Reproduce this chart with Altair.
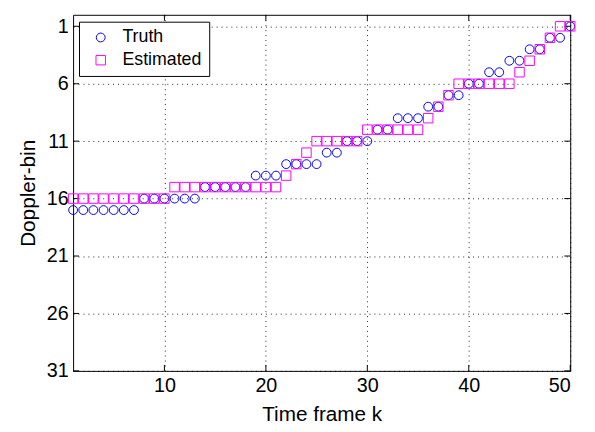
import altair as alt
import pandas as pd

k = list(range(1, 51))
truth = [17]*7 + [16]*6 + [15]*5 + [14]*3 + [13]*4 + [12]*2 + [11]*3 + [10]*2 + [9]*3 + [8]*2 + [7]*2 + [6]*2 + [5]*2 + [4]*2 + [3]*2 + [2]*2 + [1]
estimated = [16]*10 + [15]*11 + [14] + [13] + [12] + [11]*5 + [10]*6 + [9] + [8] + [7] + [6]*6 + [5] + [4] + [3] + [2] + [1] + [1]
x_ticks = [10, 20, 30, 40, 50]
y_ticks = [1, 6, 11, 16, 21, 26, 31]

df = pd.DataFrame({
    "k": k * 2,
    "bin": truth + estimated,
    "series": ["Truth"] * len(k) + ["Estimated"] * len(k),
})
xt = pd.DataFrame({"x": x_ticks})
yt = pd.DataFrame({"y": y_ticks})

FONT = "Liberation Sans"
W, H = 504, 361
xs = alt.Scale(domain=[1, 50], nice=False, zero=False)
ys = alt.Scale(domain=[0, 31], reverse=True, nice=False, zero=False)
leg = alt.Legend(title=None, orient="none", legendX=6, legendY=7)

points = alt.Chart(df).mark_point(filled=False, strokeWidth=1, opacity=1).encode(
    x=alt.X("k:Q", scale=xs, axis=alt.Axis(values=x_ticks, title="Time frame k")),
    y=alt.Y("bin:Q", scale=ys, axis=alt.Axis(values=y_ticks, title="Doppler-bin")),
    color=alt.Color("series:N", scale=alt.Scale(domain=["Truth", "Estimated"], range=["#0000ff", "#ff00ff"]),
                    legend=leg),
    shape=alt.Shape("series:N", scale=alt.Scale(domain=["Truth", "Estimated"], range=["circle", "square"]),
                    legend=leg),
    size=alt.Size("series:N", scale=alt.Scale(domain=["Truth", "Estimated"], range=[80, 92]), legend=None),
)

xb = alt.Chart(xt).mark_rule(color="black", strokeWidth=1).encode(x=alt.X("x:Q", scale=xs), y=alt.value(H), y2=alt.value(H - 6))
xtop = alt.Chart(xt).mark_rule(color="black", strokeWidth=1).encode(x=alt.X("x:Q", scale=xs), y=alt.value(0), y2=alt.value(6))
yl = alt.Chart(yt).mark_rule(color="black", strokeWidth=1).encode(y=alt.Y("y:Q", scale=ys), x=alt.value(0), x2=alt.value(6))
yr = alt.Chart(yt).mark_rule(color="black", strokeWidth=1).encode(y=alt.Y("y:Q", scale=ys), x=alt.value(W), x2=alt.value(W - 6))

chart = alt.layer(xb, xtop, yl, yr, points).properties(
    width=W, height=H, padding={"left": 9, "top": 3, "right": 10, "bottom": 0}
).configure_view(
    stroke="black", strokeWidth=1
).configure_axis(
    grid=True, gridColor="black", gridDash=[1, 4], gridOpacity=0.85, gridWidth=1,
    domain=False, ticks=False, labelFont=FONT, labelFontSize=20, labelColor="black",
    titleFont=FONT, titleFontSize=21, titleColor="black", titleFontWeight="normal", labelPadding=5,
    titlePadding=8
).configure_legend(
    strokeColor="black", fillColor="white", padding=7, labelFont=FONT, labelFontSize=18,
    labelColor="black", symbolSize=85, symbolStrokeWidth=1, rowPadding=5, labelOffset=13,
    symbolOffset=6
)

chart.save("out.html", embed_options={"renderer": "svg", "actions": False})
